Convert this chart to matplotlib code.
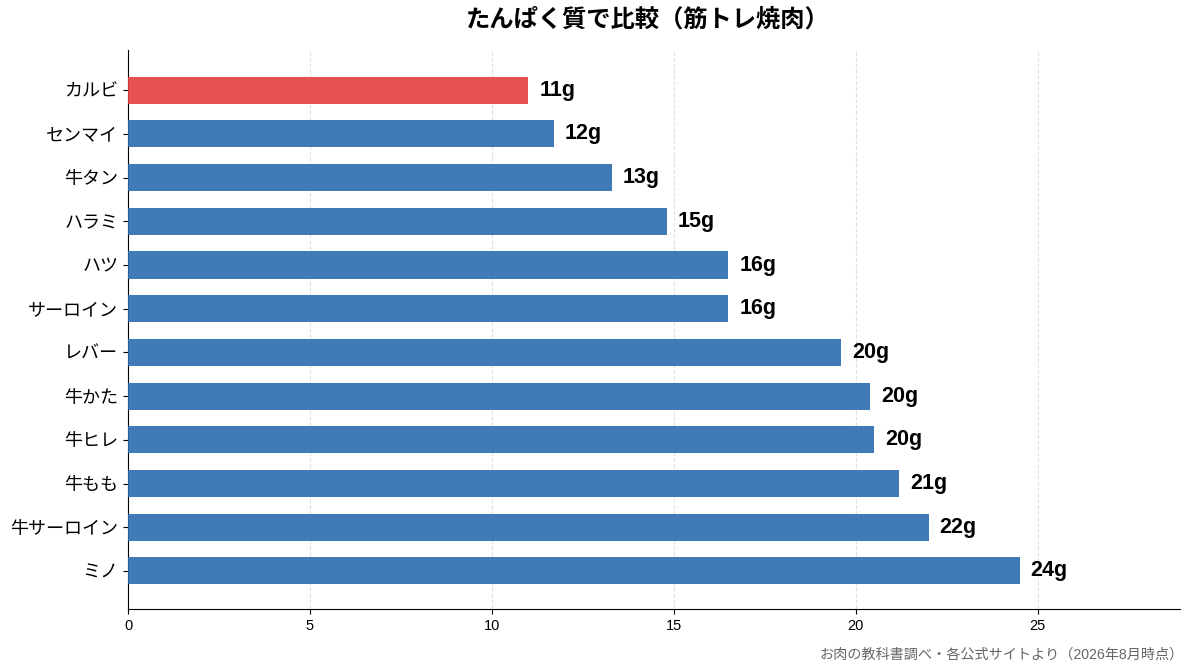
import matplotlib
matplotlib.use('Agg')
import matplotlib.pyplot as plt

plt.rcParams['font.family'] = ['Liberation Sans', 'Noto Sans CJK JP', 'DejaVu Sans']

# data (bottom to top order is reversed when drawing)
cuts = ['カルビ', 'センマイ', '牛タン', 'ハラミ', 'ハツ', 'サーロイン',
        'レバー', '牛かた', '牛ヒレ', '牛もも', '牛サーロイン', 'ミノ']
protein = [11.0, 11.7, 13.3, 14.8, 16.5, 16.5, 19.6, 20.4, 20.5, 21.2, 22.0, 24.5]
labels = ['11g', '12g', '13g', '15g', '16g', '16g',
          '20g', '20g', '20g', '21g', '22g', '24g']
highlight = 'カルビ'

fig = plt.figure(figsize=(11.93, 6.72), dpi=100)
ax = fig.add_axes([0.1073, 0.0938, 0.8818, 0.8318])

colors = ['#e53e3e' if c == highlight else '#2b6cb0' for c in cuts]
ypos = list(range(len(cuts)))[::-1]
ax.barh(ypos, protein, height=0.62, color=colors, alpha=0.9, zorder=3)

for y, v, lab in zip(ypos, protein, labels):
    ax.text(v + 0.3, y, lab, va='center', ha='left', fontsize=15.5,
            fontweight='bold', zorder=4)

ax.set_yticks(ypos)
ax.set_yticklabels(cuts, fontsize=13)
ax.set_ylim(-0.87, len(cuts) - 1 + 0.92)
ax.set_xlim(0, max(protein) * 1.18)
ax.set_xticks([0, 5, 10, 15, 20, 25])
ax.tick_params(axis='x', labelsize=10.5)
ax.grid(axis='x', linestyle='--', color='#cccccc', alpha=0.6, zorder=0)
ax.spines['top'].set_visible(False)
ax.spines['right'].set_visible(False)

fig.suptitle('たんぱく質で比較（筋トレ焼肉）', fontsize=17.5, fontweight='bold',
             x=0.543, y=0.988)
fig.text(0.992, 0.015, 'お肉の教科書調べ・各公式サイトより（2026年8月時点）',
         ha='right', va='bottom', fontsize=10.2, color='#666666')

fig.savefig('out.png', dpi=100)
